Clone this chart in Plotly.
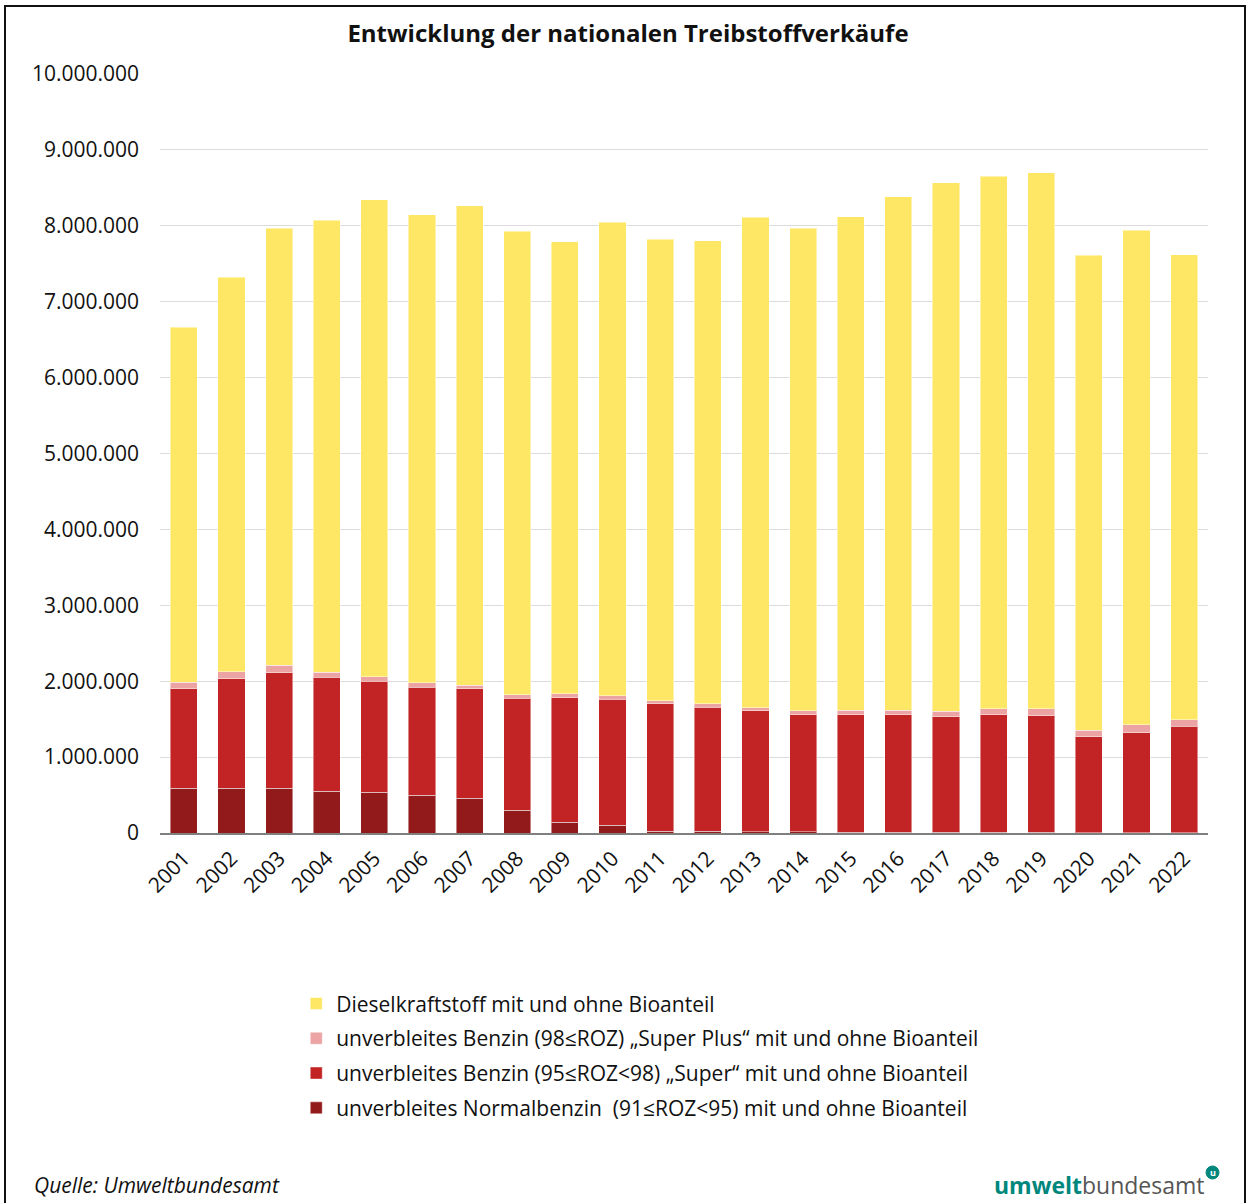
import plotly.graph_objects as go

years = [str(y) for y in range(2001, 2023)]

normalbenzin = [590000, 590000, 590000, 550000, 535000, 500000, 460000, 300000, 140000, 100000,
                25000, 20000, 15000, 15000, 12000, 12000, 12000, 8000, 8000, 4000, 3000, 2000]
super_95 = [1310000, 1440000, 1520000, 1500000, 1465000, 1420000, 1440000, 1475000, 1640000, 1660000,
            1675000, 1640000, 1595000, 1545000, 1548000, 1548000, 1518000, 1552000, 1537000, 1266000, 1317000, 1403000]
super_plus = [85000, 95000, 100000, 70000, 60000, 60000, 50000, 45000, 55000, 50000,
              40000, 40000, 40000, 50000, 60000, 60000, 77000, 80000, 90000, 87000, 107000, 85000]
diesel = [4680000, 5195000, 5755000, 5950000, 6280000, 6165000, 6317000, 6105000, 5955000, 6240000,
          6080000, 6106000, 6460000, 6360000, 6500000, 6765000, 6959000, 7010000, 7065000, 6253000, 6513000, 6130000]

names = [
    "unverbleites Normalbenzin  (91≤ROZ<95) mit und ohne Bioanteil",
    "unverbleites Benzin (95≤ROZ<98) „Super“ mit und ohne Bioanteil",
    "unverbleites Benzin (98≤ROZ) „Super Plus“ mit und ohne Bioanteil",
    "Dieselkraftstoff mit und ohne Bioanteil",
]
colors = ["#921A1B", "#C22324", "#EBA3A3", "#FFE766"]
series = [normalbenzin, super_95, super_plus, diesel]

y_ticks = list(range(0, 10000001, 1000000))

fig = go.Figure()
for i, (name, vals, col) in enumerate(zip(names, series, colors)):
    fig.add_trace(go.Bar(
        x=years, y=vals, name=name, legendgroup=f"g{i}", legendrank=1000 - i,
        marker=dict(color=col, line=dict(color="rgba(255,255,255,0.45)", width=1)),
    ))

fig.update_layout(
    width=1250, height=1203,
    barmode="stack", bargap=0.43,
    separators=",.",
    paper_bgcolor="white", plot_bgcolor="white",
    font=dict(family="Open Sans", size=21, color="#111111"),
    margin=dict(l=160, r=42, t=74, b=370),
    title=dict(text="<b>Entwicklung der nationalen Treibstoffverkäufe</b>",
               x=628/1250, xanchor="center", y=1-34/1203, yanchor="middle",
               font=dict(size=24, family="Open Sans", color="#111111")),
    legend=dict(
        x=0.130, xanchor="left", y=-0.198, yanchor="top",
        traceorder="grouped", font=dict(size=21, family="Open Sans"),
        tracegroupgap=4.5, itemwidth=30,
        bgcolor="rgba(0,0,0,0)",
    ),
    showlegend=True,
)
fig.update_yaxes(
    range=[0, 10000000], tickvals=y_ticks, tickformat=",d",
    showgrid=True, gridcolor="#DCDCDC", gridwidth=1,
    zeroline=False, showline=False, ticks="", ticklabelstandoff=20,
    tickfont=dict(size=21),
)
fig.update_xaxes(
    tickangle=-45, showline=True, linecolor="#7F7F7F", linewidth=2,
    ticks="", tickfont=dict(size=21), showgrid=False, ticklabelstandoff=3,
)

# outer frame
fig.add_shape(type="rect", xref="paper", yref="paper",
              x0=-155/1048, x1=(1245-160)/1048, y0=(833-1215)/759, y1=(833-6)/759,
              line=dict(color="#111111", width=2), fillcolor="rgba(0,0,0,0)", layer="above")

fig.add_annotation(text="<i>Quelle: Umweltbundesamt</i>", xref="paper", yref="paper",
                   x=(32-160)/1048, xanchor="left", y=(833-1185)/759, yanchor="middle",
                   showarrow=False, font=dict(size=21, family="Open Sans", color="#111111"))
fig.add_annotation(text="<b><span style='color:#00877D'>umwelt</span></b><span style='color:#555555'>bundesamt</span>",
                   xref="paper", yref="paper",
                   x=(1207-160)/1048, xanchor="right", y=(833-1185)/759, yanchor="middle",
                   showarrow=False, font=dict(size=23, family="Open Sans"))
fig.add_shape(type="circle", xref="paper", yref="paper",
              x0=(1206-160)/1048, x1=(1219-160)/1048,
              y0=(833-1179)/759, y1=(833-1166)/759,
              fillcolor="#00877D", line=dict(color="#00877D", width=1))
fig.add_annotation(text="<b>u</b>", xref="paper", yref="paper",
                   x=(1212.5-160)/1048, xanchor="center", y=(833-1172.5)/759, yanchor="middle",
                   showarrow=False, font=dict(size=9, color="white"))

fig.write_html("out.html")
